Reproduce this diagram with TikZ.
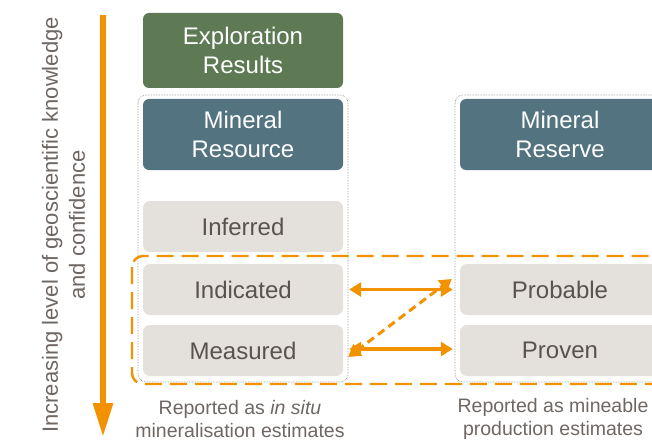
\documentclass[tikz,border=0pt]{standalone}
\usepackage{fontspec}
\setmainfont{Liberation Sans}
\usetikzlibrary{arrows.meta}
\definecolor{expgreen}{HTML}{5D7A55}
\definecolor{minteal}{HTML}{52737F}
\definecolor{catgray}{HTML}{E4E0DC}
\definecolor{cattext}{HTML}{5A524F}
\definecolor{labtext}{HTML}{6F6763}
\definecolor{frame}{HTML}{8C8682}
\definecolor{ora}{HTML}{F39200}
\tikzset{
  headbox/.style={rectangle, rounded corners=6pt, minimum width=200pt, text=white,
    font=\fontsize{24}{29}\selectfont, align=center, inner sep=0pt},
  catbox/.style={rectangle, rounded corners=7pt, fill=catgray, minimum width=200pt,
    minimum height=51pt, text=cattext, font=\fontsize{24}{29}\selectfont, inner sep=0pt},
  group/.style={draw=frame, densely dotted, line width=0.6pt, rounded corners=8pt},
  note/.style={text=labtext, font=\fontsize{19.5}{23}\selectfont, align=center, inner sep=0pt},
  link/.style={draw=ora, line width=3.5pt, {Triangle[length=12pt,width=14pt]}-{Triangle[length=12pt,width=14pt]}},
}
\begin{document}
\begin{tikzpicture}[x=1pt,y=-1pt]
\useasboundingbox (0,0) rectangle (652,441);

% grouping frames
\draw[group] (138,95) rectangle (348,382);
\draw[group] (455,95) rectangle (670,382);

% column heads
\node[headbox, fill=expgreen, minimum height=75pt] (expl) at (243,50.5) {Exploration\\Results};
\node[headbox, fill=minteal, minimum height=71pt] (mres) at (243,134.5) {Mineral\\Resource};
\node[headbox, fill=minteal, minimum height=71pt] (mrsv) at (560,134.5) {Mineral\\Reserve};

% categories
\node[catbox] (inferred) at (243,226.5) {Inferred};
\node[catbox] (indicated) at (243,289.5) {Indicated};
\node[catbox] (measured) at (243,350.5) {Measured};
\node[catbox] (probable) at (560,289.5) {Probable};
\node[catbox] (proven) at (560,350.5) {Proven};

% dashed frame around the convertible categories
\draw[ora, line width=2.4pt, dash pattern=on 17pt off 8pt, rounded corners=11pt]
  (132,256) rectangle (700,384);

% conversion links
\draw[link] ([xshift=6pt]indicated.east) -- ([xshift=-7pt]probable.west);
\draw[link] ([xshift=6pt,yshift=1.5pt]measured.east) -- ([xshift=-7pt,yshift=1.5pt]proven.west);
\draw[link, line width=3pt, dash pattern=on 8pt off 5pt] ([xshift=5pt,yshift=-6.5pt]measured.east) -- ([xshift=-8pt,yshift=10.5pt]probable.west);

% confidence axis
\coordinate (axtop) at (103,15);
\coordinate (axbot) at (103,437);
\draw[ora, line width=6pt, -{Triangle[length=34pt,width=19pt]}] (axtop) -- (axbot);
\node[note, rotate=90, font=\fontsize{22}{27}\selectfont] (axlabel) at (63.5,225)
  {Increasing level of geoscientific knowledge\\and confidence};

% reporting notes
\node[note] (inote) at (240,419) {Reported as \textit{in situ}\\mineralisation estimates};
\node[note] (pnote) at (553,419) {Reported as mineable\\production estimates};
\end{tikzpicture}
\end{document}
